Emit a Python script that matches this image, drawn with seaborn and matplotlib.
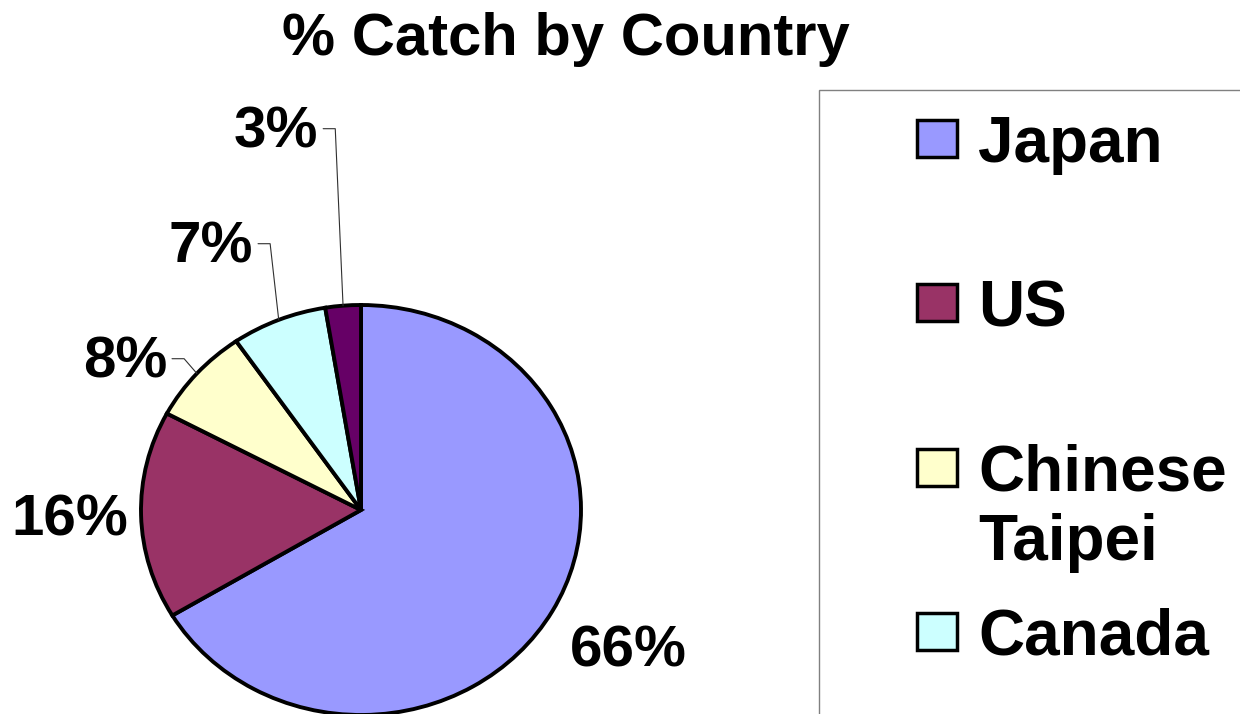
import matplotlib
matplotlib.use("Agg")
import matplotlib.pyplot as plt
import numpy as np
import seaborn as sns
from matplotlib.patches import Rectangle

# data (slice sizes,
# kept consistent with the rounded labels)
countries = ["Japan", "US", "Chinese Taipei", "Canada", "Other"]
catch_pct = [66.4, 16.4, 7.6, 7.0, 2.6]
legend_names = ["Japan", "US", "Chinese\nTaipei", "Canada"]
slice_colors = ["#9999FF", "#993366", "#FFFFCC", "#CCFFFF", "#660066"]

W, H = 1240, 714

# label layout in pie-radius units: (x, baseline y, halign, has leader)
label_layout = [(1.214, -0.761, "center", False),
                (-1.323, -0.122, "center", False),
                (-0.882, 0.644, "right", True),
                (-0.491, 1.205, "right", True),
                (-0.195, 1.766, "right", True)]


def fx(px):
    return px / W


def fy(py):
    return 1 - py / H


sns.set_theme(style="white")
plt.rcParams["font.family"] = ["Liberation Sans", "DejaVu Sans"]
plt.rcParams["font.weight"] = "bold"
plt.rcParams["text.color"] = "black"

fig = plt.figure(figsize=(W / 100, H / 100), dpi=100)
fig.patch.set_facecolor("white")

# pie drawn in a slightly wider-than-tall box like the original
ax = fig.add_axes([fx(141), fy(715), fx(440), 410 / H])
palette = sns.color_palette(slice_colors)
wedges, _ = ax.pie(catch_pct, colors=palette, startangle=90, counterclock=False,
                   wedgeprops=dict(edgecolor="black", linewidth=2.8, clip_on=False))
ax.set_aspect("auto")
ax.set_xlim(-1, 1)
ax.set_ylim(-1, 1)
ax.axis("off")

for w, pct, (lx, ly, ha, leader) in zip(wedges, catch_pct, label_layout):
    ax.text(lx, ly, "{:.0f}%".format(pct), ha=ha, va="baseline", fontsize=42,
            fontweight="bold", color="black", clip_on=False)
    if leader:
        mid = np.deg2rad((w.theta1 + w.theta2) / 2)
        yline = ly + 0.094
        xs = [lx + 0.023, lx + 0.078, np.cos(mid)]
        ys = [yline, yline, np.sin(mid)]
        ax.plot(xs, ys, color="#303030", linewidth=0.8, clip_on=False)

fig.text(fx(566), fy(12), "% Catch by Country", ha="center", va="top",
         fontsize=43, fontweight="bold", color="black")

# legend box (runs off the right and bottom edge in the original)
fig.patches.append(Rectangle((fx(819), fy(800)), fx(500), 710 / H,
                             transform=fig.transFigure, facecolor="none",
                             edgecolor="#808080", linewidth=1.0))
for i, (name, col) in enumerate(zip(legend_names, palette)):
    top = 120 + i * 164.3
    fig.patches.append(Rectangle((fx(917), fy(top + 37)), fx(40), 37 / H,
                                 transform=fig.transFigure, facecolor=col,
                                 edgecolor="black", linewidth=2.5))
    fig.text(fx(978), fy(top - 5), name, ha="left", va="top", fontsize=46,
             fontweight="bold", color="black", linespacing=1.2)

fig.savefig("out.png", dpi=100)
